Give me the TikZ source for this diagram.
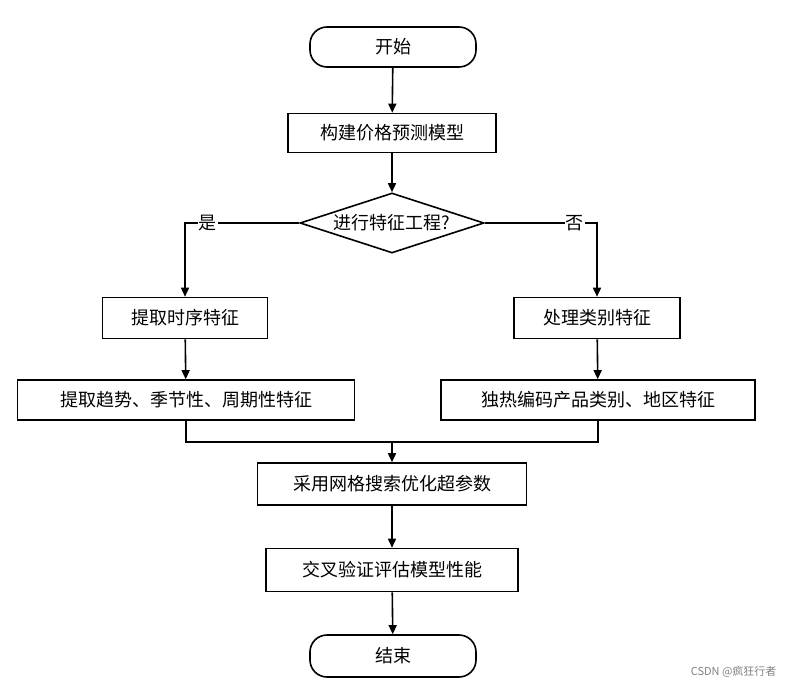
\documentclass[tikz,border=0pt]{standalone}
\usepackage{fontspec}
\setmainfont{Noto Sans CJK SC}
\usetikzlibrary{shapes.geometric,arrows.meta}
\begin{document}
\begin{tikzpicture}[x=1pt,y=-1pt,
  box/.style={draw,line width=1.6pt,minimum height=40pt,inner sep=0pt,font=\fontsize{18}{18}\selectfont},
  term/.style={box,rounded corners=17pt},
  arr/.style={line width=1.6pt,-{Triangle[length=9pt,width=8pt]}},
  ln/.style={line width=1.6pt},
  lab/.style={fill=white,inner sep=1pt,font=\fontsize{18}{18}\selectfont}]
\useasboundingbox (0,0) rectangle (785,687);
\node[term,minimum width=166pt] (s) at (393,47) {开始};
\node[box,minimum width=208pt,minimum height=39pt] (b) at (392,133) {构建价格预测模型};
\node[box,diamond,aspect=3.07,minimum width=184pt,minimum height=60pt,inner sep=0pt] (d) at (392,223) {进行特征工程?};
\node[box,minimum width=165pt,minimum height=41pt] (l1) at (185,318) {提取时序特征};
\node[box,minimum width=166pt,minimum height=41pt] (r1) at (597,318) {处理类别特征};
\node[box,minimum width=337pt] (l2) at (186,400) {提取趋势、季节性、周期性特征};
\node[box,minimum width=314pt] (r2) at (598,400) {独热编码产品类别、地区特征};
\node[box,minimum width=269pt,minimum height=42pt] (g) at (392,484) {采用网格搜索优化超参数};
\node[box,minimum width=252pt,minimum height=43pt] (c) at (392,570) {交叉验证评估模型性能};
\node[term,minimum width=166pt,minimum height=42pt] (e) at (393,656) {结束};
\coordinate (m) at (392,442);
\draw[arr] (s) -- (b);
\draw[arr] (b) -- (d);
\draw[arr] (d.west) -| node[pos=0.4,lab]{是} (l1.north);
\draw[arr] (d.east) -| node[pos=0.4,lab]{否} (r1.north);
\draw[arr] (l1) -- (l2);
\draw[arr] (r1) -- (r2);
\draw[ln] (l2.south) |- (m) -| (r2.south);
\draw[arr] (m) -- (g);
\draw[arr] (g) -- (c);
\draw[arr] (c) -- (e);
\node[text=gray,font=\fontsize{11}{11}\selectfont,anchor=east] (w) at (780,672) {CSDN @疯狂行者};
\end{tikzpicture}
\end{document}
